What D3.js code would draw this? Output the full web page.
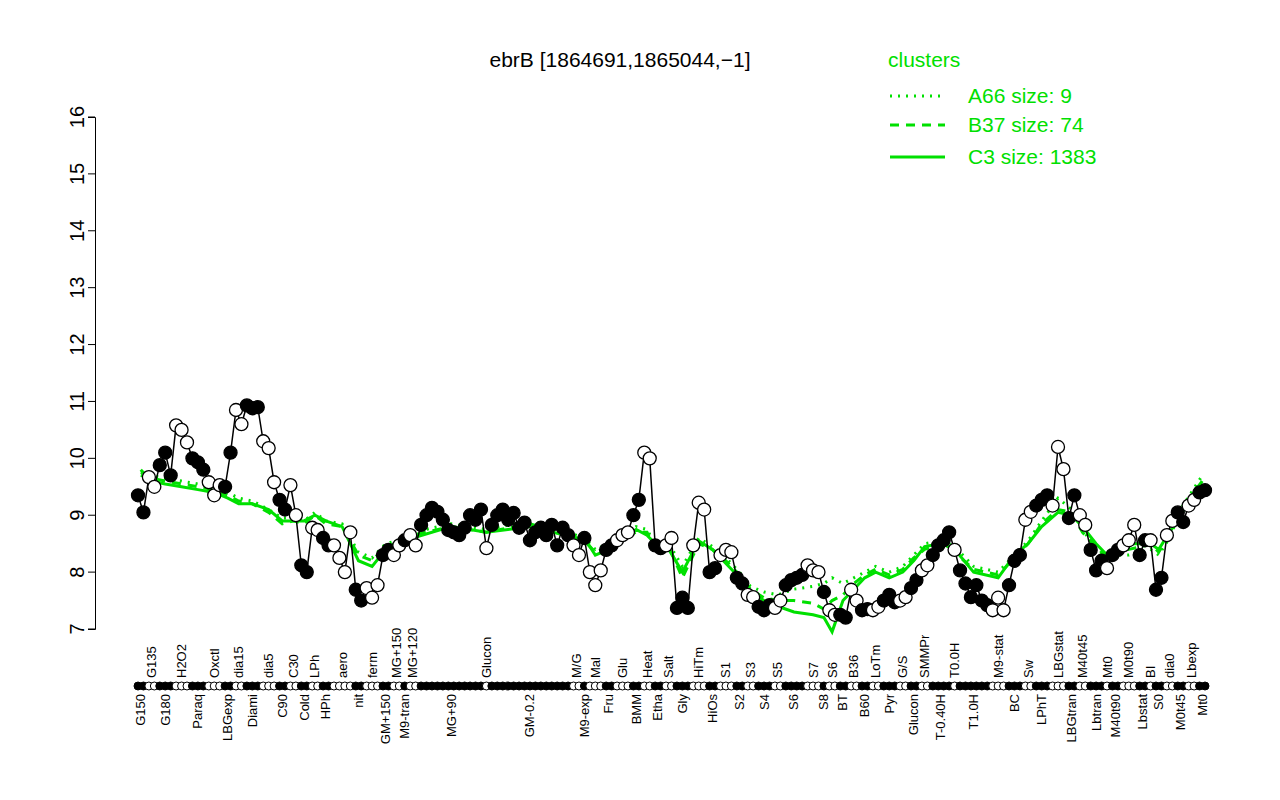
<!DOCTYPE html><html><head><meta charset="utf-8"><script src="https://cdn.jsdelivr.net/npm/d3@7"></script>
<style>body{margin:0;background:#fff}text{font-family:"Liberation Sans",Arial,sans-serif}</style></head><body><svg id="c" width="1280" height="800"></svg><script>
const groupNames=["G150","G135","G180","H2O2","Paraq","Oxctl","LBGexp","dia15","Diami","dia5","C90","C30","Cold","LPh","HPh","aero","nit","ferm","GM+150","MG+150","M9-tran","MG+120","MG+90","Glucon","GM-0.2","M/G","M9-exp","Mal","Fru","Glu","BMM","Heat","Etha","Salt","Gly","HiTm","HiOs","S1","S2","S3","S4","S5","S6","S7","S8","S6","BT","B36","B60","LoTm","Pyr","G/S","Glucon","SMMPr","T-0.40H","T0.0H","T1.0H","M9-stat","BC","Sw","LPhT","LBGstat","LBGtran","M40t45","Lbtran","Mt0","M40t90","M0t90","Lbstat","BI","S0","dia0","M0t45","Lbexp","Mt0"];
const groupValues=[[9.35,9.05],[9.67,9.5],[9.88,10.1,9.7],[10.58,10.5,10.28],[10.0,9.93,9.8],[9.58,9.35,9.53],[9.5,10.1],[10.85,10.6],[10.93,10.88,10.9],[10.3,10.18,9.58],[9.27,9.1],[9.53,9.0],[8.12,8.0],[8.78,8.74],[8.6,8.47],[8.47,8.25,8.0,8.7],[7.69,7.5],[7.72,7.55,7.77],[8.3,8.39],[8.3,8.47],[8.56],[8.65,8.47],[8.83,9.0,9.13,9.06,8.92,8.74,8.7,8.65,8.78,9.0,8.92,9.1],[8.42],[8.83,9.0,9.1,8.92,9.04,8.78,8.87,8.56,8.7,8.78,8.65,8.83,8.47,8.78,8.65],[8.47,8.3],[8.6],[8.0,7.77,8.03],[8.39,8.47],[8.56,8.65,8.7],[9.0,9.27],[10.1,10.0],[8.47,8.42],[8.47,8.6],[7.37,7.55,7.37],[8.47,9.22,9.1],[8.0,8.07],[8.3,8.39,8.35],[7.9,7.8],[7.6,7.56],[7.39,7.33,7.42],[7.37,7.5],[7.77,7.86,7.9,7.95],[8.12,8.03,8.0],[7.65],[7.33,7.25],[7.25,7.2],[7.69,7.5],[7.33,7.35],[7.33,7.39],[7.5,7.6,7.47],[7.5,7.56],[7.72,7.86],[8.03,8.12],[8.3,8.47,8.56,8.7],[8.39],[8.03,7.8,7.56,7.77,7.5,7.42],[7.33,7.55,7.33],[7.77,8.2,8.3],[8.92,9.06],[9.17,9.27,9.35],[9.17,10.2,9.81],[8.95,9.35],[9.0,8.83],[8.39,8.03,8.2],[8.07],[8.3,8.39],[8.47,8.56,8.83],[8.3,8.56],[8.56],[7.69,7.9],[8.65,8.9],[9.05,8.88],[9.17,9.27],[9.4,9.44]];
const C3=[9.8,9.6,9.55,9.5,9.45,9.4,9.3,9.2,9.2,9.1,8.9,8.9,8.9,9.0,8.9,8.8,8.2,8.1,8.4,8.5,8.6,8.6,8.8,8.7,8.8,8.6,8.6,8.3,8.4,8.6,8.75,8.65,8.45,8.4,8.0,8.55,8.4,8.15,7.9,7.65,7.5,7.4,7.3,7.25,7.2,6.95,7.5,7.7,7.9,8.0,7.9,8.0,8.2,8.45,8.5,8.4,8.0,7.9,8.3,8.5,8.8,9.05,9.0,8.8,8.5,8.3,8.4,8.5,8.5,8.5,8.4,8.7,9.0,9.3,9.55];
const B37=[9.7,9.65,9.6,9.55,9.5,9.45,9.35,9.25,9.2,9.05,8.85,8.9,8.85,9.0,8.85,8.8,8.3,8.2,8.45,8.5,8.55,8.65,8.8,8.7,8.85,8.6,8.55,8.35,8.45,8.6,8.7,8.7,8.3,8.45,7.9,8.5,8.4,8.2,7.95,7.7,7.55,7.5,7.5,7.45,7.35,7.5,7.6,7.8,7.95,8.05,7.95,8.05,8.25,8.4,8.5,8.35,8.05,7.95,8.25,8.5,8.85,9.1,9.05,8.7,8.45,8.25,8.35,8.4,8.45,8.5,8.35,8.65,9.05,9.35,9.6];
const A66=[9.75,9.7,9.65,9.6,9.55,9.5,9.4,9.3,9.25,9.1,8.95,8.95,8.9,9.05,8.9,8.85,8.35,8.25,8.5,8.55,8.6,8.7,8.85,8.75,8.9,8.65,8.6,8.4,8.5,8.65,8.8,8.75,8.4,8.5,8.1,8.6,8.45,8.25,8.0,7.75,7.65,7.6,7.7,7.75,7.8,7.9,7.8,7.9,8.0,8.1,8.0,8.1,8.3,8.5,8.55,8.45,8.1,8.0,8.3,8.55,8.9,9.3,9.1,8.75,8.4,8.2,8.3,8.3,8.35,8.4,8.3,8.6,9.1,9.4,9.7];
const yTicks=[7,8,9,10,11,12,13,14,15,16];
const svg=d3.select("#c");
const pts=[];groupValues.forEach((vs,g)=>vs.forEach(v=>pts.push({g,v})));
const x=d3.scaleLinear().domain([0,pts.length-1]).range([138,1205]);
const y=d3.scaleLinear().domain([7,16]).range([629,117]);
pts.forEach((p,i)=>p.i=i);
const gx=groupValues.map((_,g)=>d3.mean(pts.filter(p=>p.g===g),p=>x(p.i)));
const ax=svg.append("g").attr("transform","translate(95,0)").call(d3.axisLeft(y).tickValues(yTicks).tickSize(7).tickFormat(d3.format("d")));
ax.select(".domain").attr("stroke","#000");
ax.selectAll(".tick").attr("transform",null).each(function(d){const t=d3.select(this);t.select("line").attr("y1",y(d)).attr("y2",y(d));
 t.select("text").attr("font-size",20).attr("fill","#000").attr("x",-18).attr("y",y(d)).attr("dy","0.35em").attr("text-anchor","middle").attr("transform",`rotate(-90,-18,${y(d)})`);});
const gl=d3.line().x((d,i)=>gx[i]).y(d=>y(d));
svg.append("path").attr("d",gl(A66)).attr("fill","none").attr("stroke","#00e000").attr("stroke-width",3).attr("stroke-dasharray","2,6");
svg.append("path").attr("d",gl(B37)).attr("fill","none").attr("stroke","#00e000").attr("stroke-width",3).attr("stroke-dasharray","9,7");
svg.append("path").attr("d",gl(C3)).attr("fill","none").attr("stroke","#00e000").attr("stroke-width",3);
svg.append("path").attr("d",d3.line().x(p=>x(p.i)).y(p=>y(p.v))(pts)).attr("fill","none").attr("stroke","#000").attr("stroke-width",1.5);
svg.selectAll(".pt").data(pts).join("circle").attr("cx",p=>x(p.i)).attr("cy",p=>y(p.v)).attr("r",6.5).attr("fill",p=>p.g%2?"#fff":"#000").attr("stroke","#000").attr("stroke-width",1.3);
svg.selectAll(".bm").data(pts).join("circle").attr("cx",p=>x(p.i)).attr("cy",686).attr("r",4).attr("fill",p=>p.g%2?"#fff":"#000").attr("stroke","#000").attr("stroke-width",1);
groupNames.forEach((n,g)=>{const up=g%2===1;const yy=up?678:694;
 svg.append("text").text(n).attr("font-size",13).attr("text-anchor",up?"start":"end").attr("transform",`translate(${gx[g]+4.5},${yy}) rotate(-90)`);});
svg.append("text").text("ebrB [1864691,1865044,\u22121]").attr("x",620).attr("y",67).attr("font-size",21).attr("text-anchor","middle");
svg.append("text").text("clusters").attr("x",888).attr("y",67).attr("font-size",21).attr("fill","#00e000");
[["A66 size: 9","2,6",96],["B37 size: 74","9,7",125],["C3 size: 1383",null,157]].forEach(([t,da,yy])=>{
 svg.append("line").attr("x1",890).attr("x2",945).attr("y1",yy).attr("y2",yy).attr("stroke","#00e000").attr("stroke-width",3).attr("stroke-dasharray",da);
 svg.append("text").text(t).attr("x",968).attr("y",yy+7).attr("font-size",21).attr("fill","#00e000");});
</script></body></html>
